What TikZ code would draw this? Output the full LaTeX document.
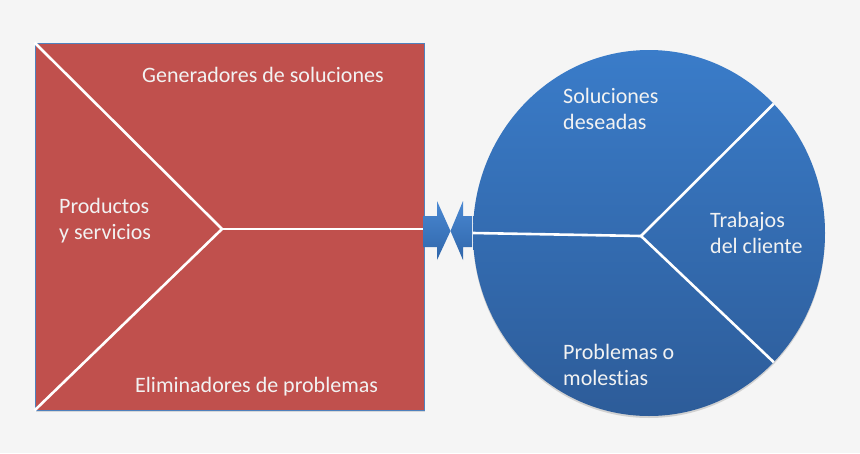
\documentclass[tikz,border=0pt]{standalone}
\usepackage{fontspec}
\setmainfont{Carlito}[Ligatures=NoCommon]
\usepackage{xcolor}
\usetikzlibrary{shapes.geometric,shadows,positioning}

\definecolor{pagegray}{HTML}{F5F5F5}
\definecolor{offerred}{HTML}{C0504D}
\definecolor{edgeblue}{HTML}{4F81BD}
\definecolor{clienttop}{HTML}{3A7CC9}
\definecolor{clientbot}{HTML}{2D5C99}
\definecolor{arrowtop}{HTML}{4A88D2}
\definecolor{arrowbot}{HTML}{2F66AA}

\begin{document}
\begin{tikzpicture}[x=1pt, y=-1pt,
    offer/.style={rectangle, draw=edgeblue, line width=0.8pt, fill=offerred, minimum width=389pt, minimum height=367pt, inner sep=0pt, drop shadow={opacity=0.25, shadow xshift=1pt, shadow yshift=-2pt}},
    client/.style={ellipse, top color=clienttop, bottom color=clientbot, minimum width=352pt, minimum height=366pt, inner sep=0pt, drop shadow={opacity=0.3, shadow xshift=0pt, shadow yshift=-2pt}},
    split/.style={draw=white, line width=2.6pt},
    pointer/.style={top color=arrowtop, bottom color=arrowbot},
    blocktext/.style={text=white!95!black, font=\fontsize{22}{26}\selectfont, inner sep=0pt, align=left}
]
    % Background
    \fill[pagegray] (0,0) rectangle (860,453);

    % Value proposition square
    \node[offer] (offer) at (229.5,226.5) {};
    \coordinate (hub) at (222,229);
    \draw[split] (offer.north west) -- (hub) -- (offer.south west);
    \draw[split] (hub) -- (hub -| offer.east);

    % Arrows between both shapes
    \path[pointer] (423,216) -- (437,216) -- (437,201) -- (450.5,231) -- (437,260) -- (437,247) -- (423,247) -- cycle;
    \path[pointer] (472,216) -- (463,216) -- (463,201) -- (450.5,231) -- (463,260) -- (463,247) -- (472,247) -- cycle;

    % Customer circle
    \node[client] (client) at (649,233) {};
    \coordinate (core) at (641,236);
    \draw[split] (client.west) -- (core);
    \draw[split] (core) -- (client.46);
    \draw[split] (core) -- (client.-46);

    % Texts (base = last line)
    \node[blocktext, anchor=base west] (gen) at (142,82) {Generadores de soluciones};
    \node[blocktext, anchor=base west] (elim) at (135,392) {Eliminadores de problemas};
    \node[blocktext, anchor=base west] (prod) at (59,239) {Productos\\y servicios};
    \node[blocktext, anchor=base west] (want) at (563,129) {Soluciones\\deseadas};
    \node[blocktext, anchor=base west] (jobs) at (710,253) {Trabajos\\del cliente};
    \node[blocktext, anchor=base west] (pain) at (563,385) {Problemas o\\molestias};
\end{tikzpicture}
\end{document}
